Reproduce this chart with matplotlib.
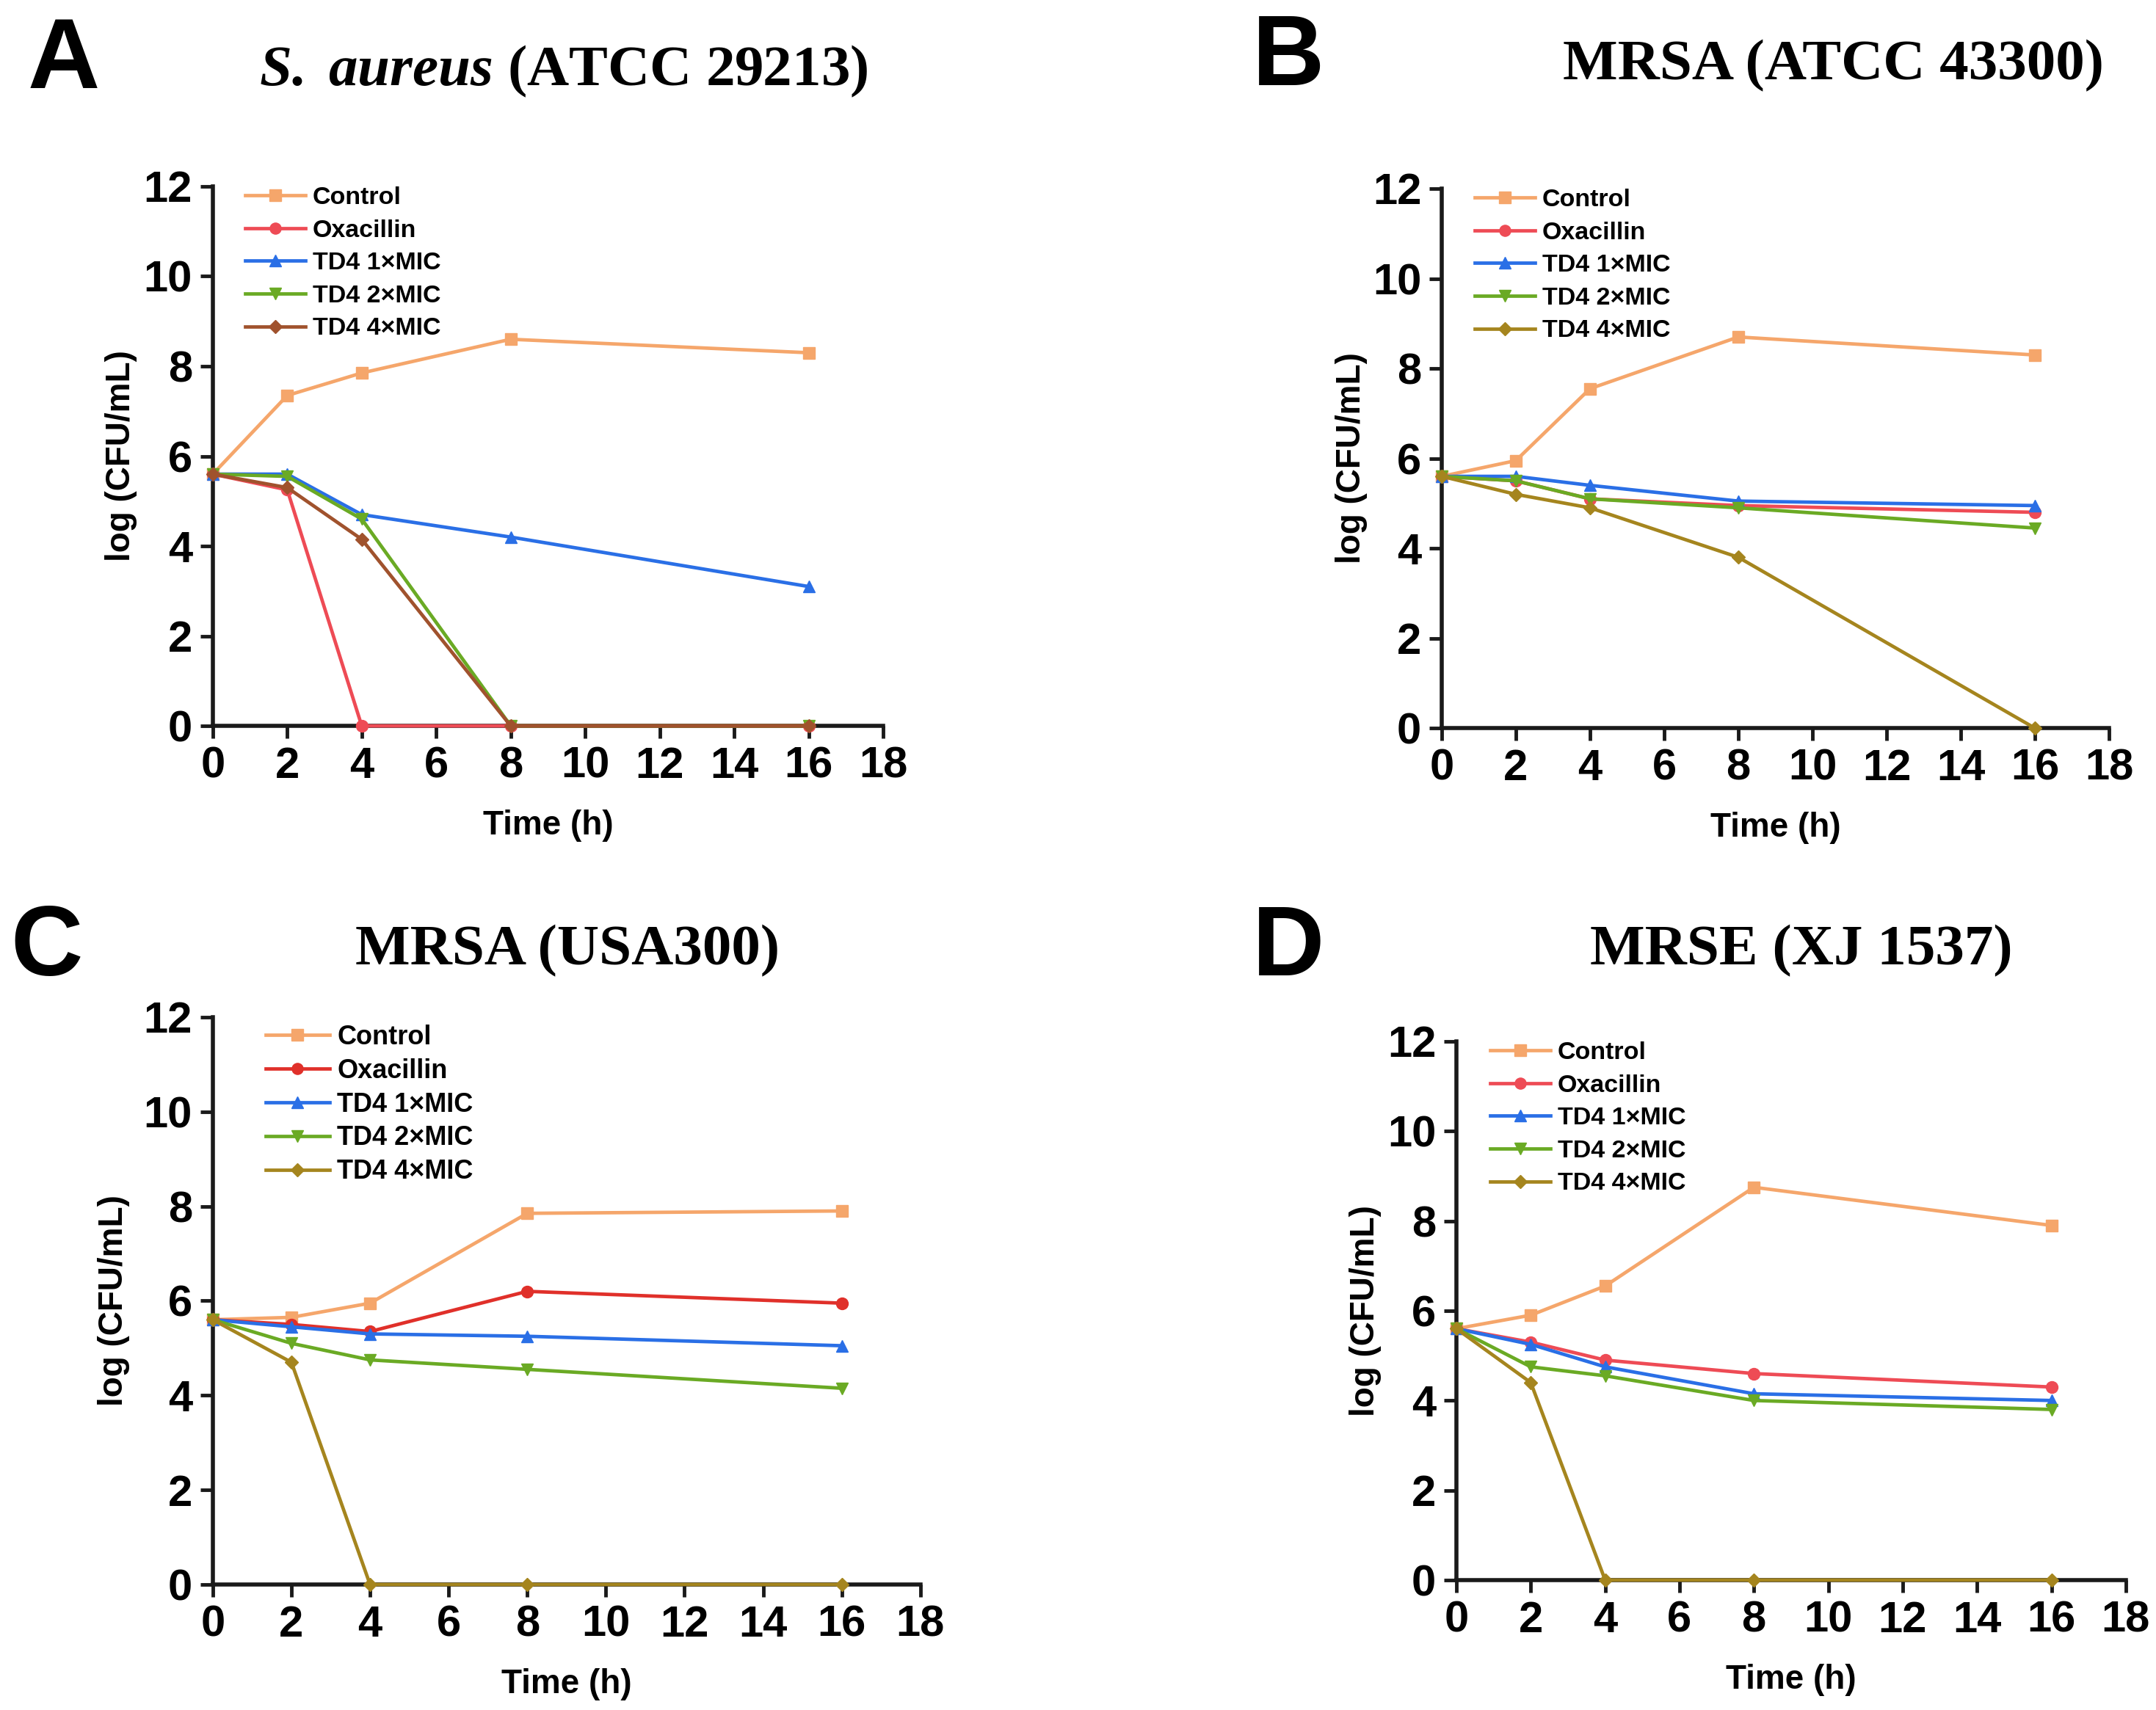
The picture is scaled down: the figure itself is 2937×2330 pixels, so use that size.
import matplotlib
matplotlib.use("Agg")
import matplotlib.pyplot as plt

plt.rcParams["font.family"] = "Liberation Sans"
plt.rcParams["font.weight"] = "bold"
plt.rcParams["mathtext.fontset"] = "custom"
plt.rcParams["mathtext.rm"] = "Liberation Serif:bold"
plt.rcParams["mathtext.bfit"] = "Liberation Serif:italic:bold"

# Sampling times (h)
time_h = [0, 2, 4, 8, 16]
series_names = ["Control", "Oxacillin", "TD4 1×MIC", "TD4 2×MIC", "TD4 4×MIC"]
markers = ["s", "o", "^", "v", "D"]

# A: S. aureus (ATCC 29213)
a_control = [5.6, 7.35, 7.85, 8.6, 8.3]
a_oxacillin = [5.6, 5.25, 0, 0, 0]
a_td4_1x = [5.6, 5.6, 4.7, 4.2, 3.1]
a_td4_2x = [5.6, 5.55, 4.6, 0, 0]
a_td4_4x = [5.6, 5.3, 4.15, 0, 0]

# B: MRSA (ATCC 43300)
b_control = [5.6, 5.95, 7.55, 8.7, 8.3]
b_oxacillin = [5.6, 5.5, 5.1, 4.95, 4.8]
b_td4_1x = [5.6, 5.6, 5.4, 5.05, 4.95]
b_td4_2x = [5.6, 5.5, 5.1, 4.9, 4.45]
b_td4_4x = [5.6, 5.2, 4.9, 3.8, 0]

# C: MRSA (USA300)
c_control = [5.6, 5.65, 5.95, 7.85, 7.9]
c_oxacillin = [5.6, 5.5, 5.35, 6.2, 5.95]
c_td4_1x = [5.6, 5.45, 5.3, 5.25, 5.05]
c_td4_2x = [5.6, 5.1, 4.75, 4.55, 4.15]
c_td4_4x = [5.6, 4.7, 0, 0, 0]

# D: MRSE (XJ 1537)
d_control = [5.6, 5.9, 6.55, 8.75, 7.9]
d_oxacillin = [5.6, 5.3, 4.9, 4.6, 4.3]
d_td4_1x = [5.6, 5.25, 4.75, 4.15, 4.0]
d_td4_2x = [5.6, 4.75, 4.55, 4.0, 3.8]
d_td4_4x = [5.6, 4.4, 0, 0, 0]

panels = [
    dict(letter="A", title=r"$\mathbfit{S.\,aureus}$ (ATCC 29213)",
         data=[a_control, a_oxacillin, a_td4_1x, a_td4_2x, a_td4_4x],
         colors=["#F5A66B", "#EE4B55", "#2A6FE6", "#6AAA24", "#A0522D"],
         rect=[0.0987, 0.5755, 0.3109, 0.3155], leg_x=44, leg_dy=0, leg_fs=24.5,
         leg_sp=0.4, ylab_dx=125, title_xy=(0.2615, 0.9502), letter_xy=(0.0296, 0.9485)),
    dict(letter="B", title="MRSA (ATCC 43300)",
         data=[b_control, b_oxacillin, b_td4_1x, b_td4_2x, b_td4_4x],
         colors=["#F5A66B", "#EE4B55", "#2A6FE6", "#6AAA24", "#A5851E"],
         rect=[0.6687, 0.5742, 0.3095, 0.3155], leg_x=45, leg_dy=0, leg_fs=24.5,
         leg_sp=0.4, ylab_dx=123, title_xy=(0.8505, 0.9536), letter_xy=(0.5976, 0.9500)),
    dict(letter="C", title="MRSA (USA300)",
         data=[c_control, c_oxacillin, c_td4_1x, c_td4_2x, c_td4_4x],
         colors=["#F5A66B", "#E0302A", "#2A6FE6", "#6AAA24", "#A5851E"],
         rect=[0.0987, 0.0734, 0.3282, 0.3318], leg_x=72, leg_dy=10, leg_fs=26,
         leg_sp=0.3, ylab_dx=135, title_xy=(0.2632, 0.4361), letter_xy=(0.0215, 0.4296)),
    dict(letter="D", title="MRSE (XJ 1537)",
         data=[d_control, d_oxacillin, d_td4_1x, d_td4_2x, d_td4_4x],
         colors=["#F5A66B", "#EE4B55", "#2A6FE6", "#6AAA24", "#A5851E"],
         rect=[0.6755, 0.0760, 0.3105, 0.3150], leg_x=46, leg_dy=0, leg_fs=24.5,
         leg_sp=0.4, ylab_dx=124, title_xy=(0.8355, 0.4361), letter_xy=(0.5976, 0.4296)),
]

fig = plt.figure(figsize=(29.37, 23.30), dpi=100)

for p in panels:
    ax = fig.add_axes(p["rect"])
    for vals, name, col, mk in zip(p["data"], series_names, p["colors"], markers):
        ms = 9.5 if mk == "D" else 11.5
        ax.plot(time_h, vals, color=col, marker=mk, markersize=ms, linewidth=3.4,
                label=name, clip_on=False, zorder=3)

    ax.set_xlim(0, 18)
    ax.set_ylim(0, 12)
    ax.set_xticks(range(0, 19, 2))
    ax.set_yticks(range(0, 13, 2))
    ax.spines["top"].set_visible(False)
    ax.spines["right"].set_visible(False)
    for s in ["left", "bottom"]:
        ax.spines[s].set_linewidth(4)
        ax.spines[s].set_color("#1a1a1a")
    ax.tick_params(axis="both", length=12, width=3.5, color="#1a1a1a", pad=8)
    for lab in ax.get_xticklabels() + ax.get_yticklabels():
        lab.set_fontweight("bold")
        lab.set_fontsize(43)

    w_px = p["rect"][2] * 2937
    h_px = p["rect"][3] * 2330
    ax.set_ylabel("log (CFU/mL)", fontsize=33, fontweight="bold", va="center")
    ax.yaxis.set_label_coords(-p["ylab_dx"] / w_px, 0.5)
    ax.set_xlabel("Time (h)", fontsize=33, fontweight="bold", va="center")
    ax.xaxis.set_label_coords(0.5, -136 / h_px)

    ax.legend(loc="upper left",
              bbox_to_anchor=(p["leg_x"] / w_px, 1.0 - p["leg_dy"] / h_px),
              frameon=False, fontsize=p["leg_fs"], handlelength=2.4,
              handletextpad=0.3, labelspacing=p["leg_sp"], borderpad=0,
              borderaxespad=0, markerscale=0.95)

    fig.text(p["title_xy"][0], p["title_xy"][1], p["title"], family="Liberation Serif",
             fontweight="bold", fontsize=57, ha="center", va="baseline")
    fig.text(p["letter_xy"][0], p["letter_xy"][1], p["letter"], fontsize=98,
             fontweight="bold", ha="center", va="baseline")

fig.savefig("out.png", dpi=100)
